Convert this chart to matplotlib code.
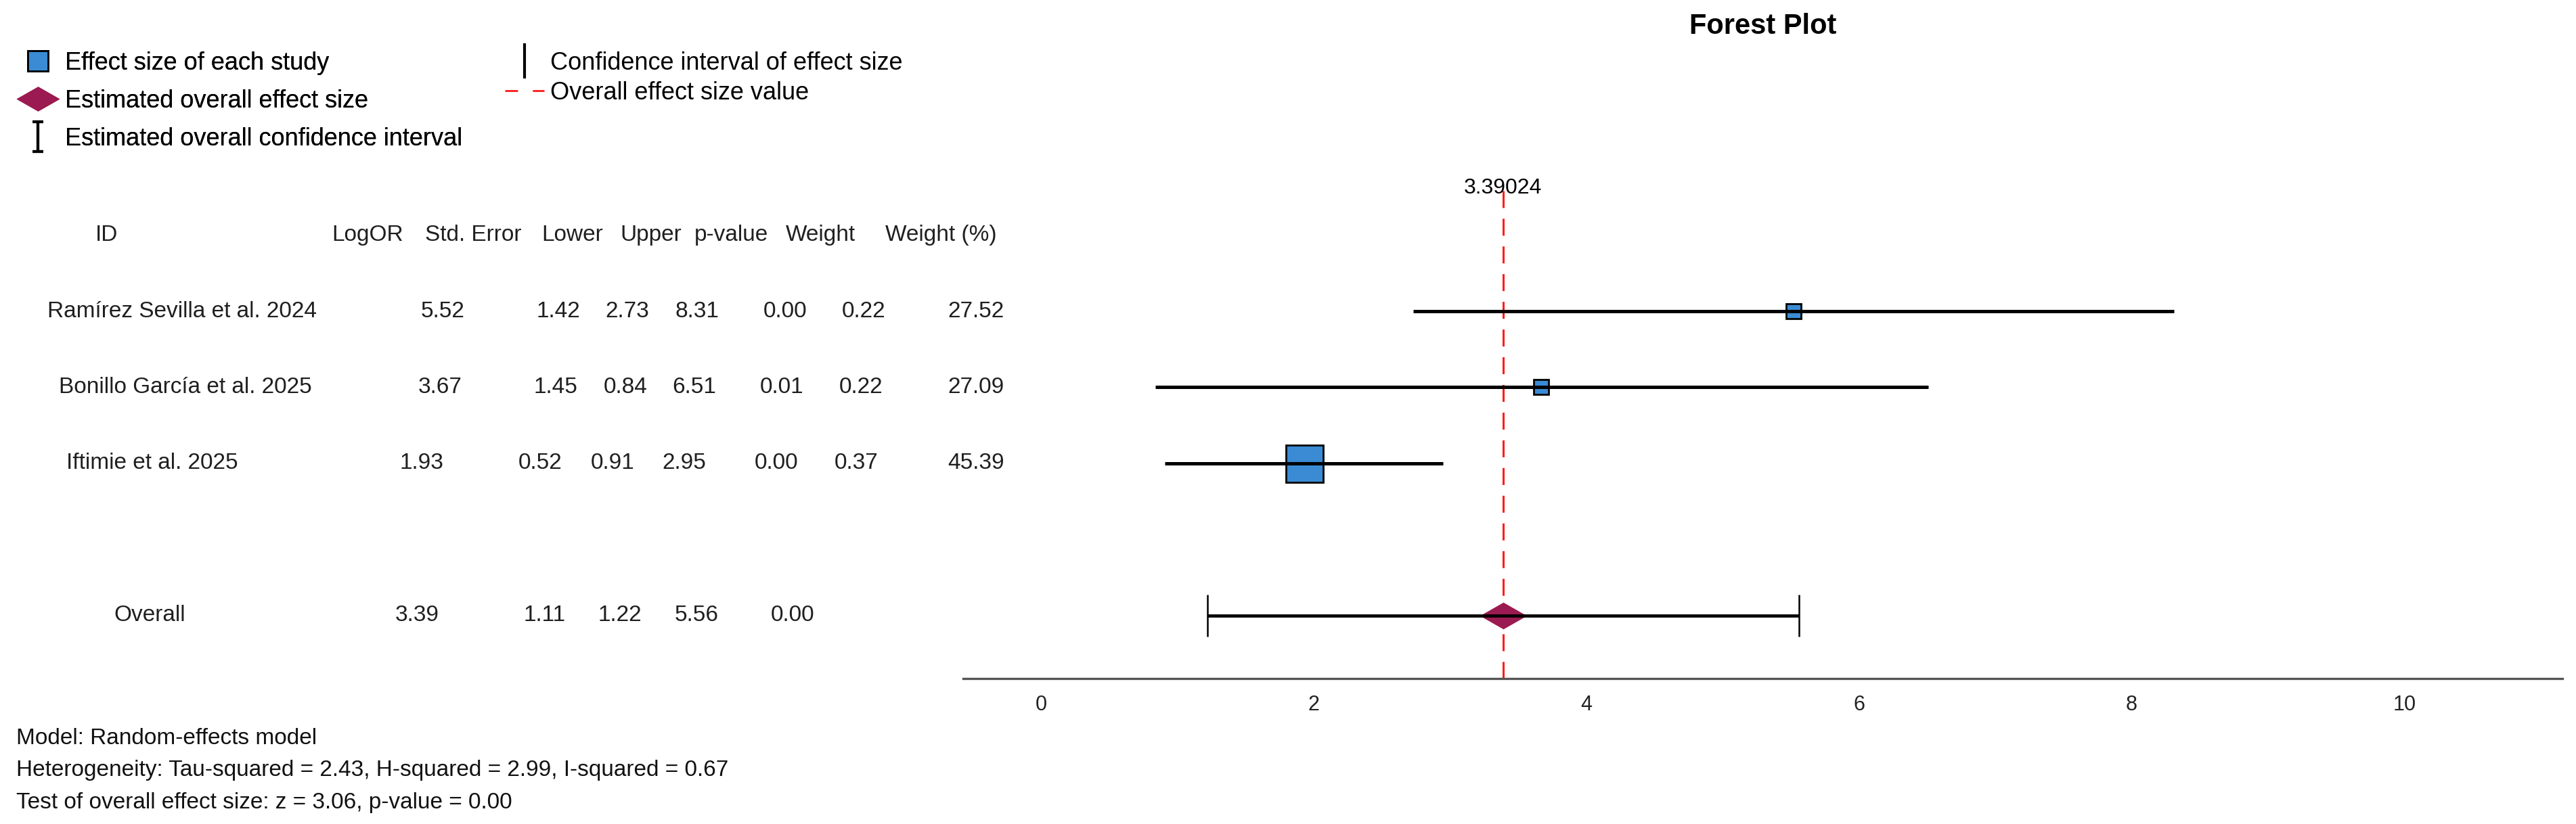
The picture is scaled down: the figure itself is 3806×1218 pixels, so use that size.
import numpy as np
import matplotlib.pyplot as plt
import matplotlib.transforms as mtransforms
from matplotlib.lines import Line2D
from matplotlib.path import Path

plt.rcParams['font.family'] = ['Liberation Sans', 'DejaVu Sans']

# Dados do forest plot
study_ids = ['Ramírez Sevilla et al. 2024', 'Bonillo García et al. 2025', 'Iftimie et al. 2025']
log_or = [5.52, 3.67, 1.93]
std_err = [1.42, 1.45, 0.52]
ci_lower = [2.73, 0.84, 0.91]
ci_upper = [8.31, 6.51, 2.95]
p_values = [0.00, 0.01, 0.00]
weights = [0.22, 0.22, 0.37]
weight_pct = [27.52, 27.09, 45.39]

overall_es = 3.39024
overall_se = 1.11
overall_lower = 1.22
overall_upper = 5.56
overall_p = 0.00

header = ['ID', 'LogOR', 'Std. Error', 'Lower', 'Upper', 'p-value', 'Weight', 'Weight (%)']
x_ticks = [0, 2, 4, 6, 8, 10]

footer_lines = [
    'Model: Random-effects model',
    'Heterogeneity: Tau-squared = 2.43, H-squared = 2.99, I-squared = 0.67',
    'Test of overall effect size: z = 3.06, p-value = 0.00',
]

# cores
blue = '#3a8bd4'
maroon = '#9b1a52'

W, H = 3806, 1218
fig = plt.figure(figsize=(W / 100, H / 100), dpi=100)
ax = fig.add_axes([1423 / W, 1 - 1003 / H, (3786 - 1423) / W, (1003 - 269) / H])

rows = np.arange(len(study_ids))
overall_row = len(study_ids) + 1
header_row = -1

# losango achatado (mais largo que alto)
diamond = Path([(-1, 0), (0, 0.57), (1, 0), (0, -0.57), (-1, 0)],
               [Path.MOVETO, Path.LINETO, Path.LINETO, Path.LINETO, Path.CLOSEPOLY])
ibar = Path([(0, -1), (0, 1), (-0.35, 1), (0.35, 1), (-0.35, -1), (0.35, -1)],
            [Path.MOVETO, Path.LINETO, Path.MOVETO, Path.LINETO, Path.MOVETO, Path.LINETO])

# linha do efeito global
ax.axvline(overall_es, color='#ff1a1a', lw=2.2, ls=(0, (8.2, 5.2)), zorder=1)

# estudos: quadrados com tamanho pelo peso + intervalo de confiança
max_w = max(weight_pct)
for y, es, w in zip(rows, log_or, weight_pct):
    ax.plot(es, y, marker='s', ms=39.6 * (w / max_w) ** 1.8, color=blue,
            markeredgecolor='black', markeredgewidth=2, linestyle='none', zorder=2)
ax.hlines(rows, ci_lower, ci_upper, color='black', lw=3.6, zorder=3)

# efeito global
ax.plot(overall_es, overall_row, marker=diamond, ms=50, color=maroon,
        markeredgewidth=0, linestyle='none', zorder=2.5)
ax.errorbar(overall_es, overall_row,
            xerr=[[overall_es - overall_lower], [overall_upper - overall_es]],
            fmt='none', ecolor='black', elinewidth=3.4, capsize=22, capthick=1.8, zorder=3)

ax.text(overall_es, -1.62, f'{overall_es:.5f}', ha='center', va='center', fontsize=23)

ax.set_xlim(-0.57, 11.16)
ax.set_ylim(4.83, -1.70)
ax.set_xticks(x_ticks)
ax.set_yticks([])
ax.tick_params(axis='x', length=0, pad=17, labelsize=22, labelcolor='#222222')
for side in ['top', 'left', 'right']:
    ax.spines[side].set_visible(False)
ax.spines['bottom'].set_color('#555555')
ax.spines['bottom'].set_linewidth(2.4)

ax.set_title('Forest Plot', fontsize=30, fontweight='bold', pad=158)

# tabela à esquerda (x em pixels da figura, y nos dados)
trans = mtransforms.blended_transform_factory(fig.transFigure, ax.transData)
header_x = [158, 543, 699, 846, 962, 1080, 1212, 1390]
row_x = [
    [269, 654, 825, 927, 1030, 1160, 1276, 1442],
    [274, 650, 821, 924, 1026, 1155, 1272, 1442],
    [225, 623, 798, 905, 1011, 1147, 1265, 1442],
]
overall_x = [221, 616, 805, 916, 1029, 1171]
tcolor = '#1f1f1f'
tsize = 24

for label, x in zip(header, header_x):
    ax.text(x / W, header_row, label, transform=trans, ha='center', va='center',
            fontsize=tsize, color=tcolor, clip_on=False)

for i, y in enumerate(rows):
    cells = [study_ids[i], f'{log_or[i]:.2f}', f'{std_err[i]:.2f}', f'{ci_lower[i]:.2f}',
             f'{ci_upper[i]:.2f}', f'{p_values[i]:.2f}', f'{weights[i]:.2f}', f'{weight_pct[i]:.2f}']
    for cell, x in zip(cells, row_x[i]):
        ax.text(x / W, y, cell, transform=trans, ha='center', va='center',
                fontsize=tsize, color=tcolor, clip_on=False)

overall_cells = ['Overall', f'{overall_es:.2f}', f'{overall_se:.2f}', f'{overall_lower:.2f}',
                 f'{overall_upper:.2f}', f'{overall_p:.2f}']
for cell, x in zip(overall_cells, overall_x):
    ax.text(x / W, overall_row, cell, transform=trans, ha='center', va='center',
            fontsize=tsize, color=tcolor, clip_on=False)

# rodapé
for k, line in enumerate(footer_lines):
    fig.text(24 / W, 1 - [1092, 1138, 1187][k] / H, line, ha='left', va='center',
             fontsize=24, color='#111111')

# legendas (duas colunas)
h_square = Line2D([], [], marker='s', ms=21, color=blue, markeredgecolor='black',
                  markeredgewidth=2, linestyle='none')
h_diamond = Line2D([], [], marker=diamond, ms=46, color=maroon, markeredgewidth=0, linestyle='none')
h_ibar = Line2D([], [], marker=ibar, ms=31, color='black', markeredgewidth=3, linestyle='none')
h_vline = Line2D([], [], marker='|', ms=37, color='black', markeredgewidth=3, linestyle='none')
h_dash = Line2D([], [], color='#ff1a1a', lw=2, ls=(0, (6.8, 7.9)))

leg1 = fig.legend([h_square, h_diamond, h_ibar],
                  ['Effect size of each study', 'Estimated overall effect size',
                   'Estimated overall confidence interval'],
                  loc='upper left', bbox_to_anchor=(24 / W, 1 - 76 / H), frameon=False,
                  fontsize=26, borderpad=0, borderaxespad=0, handlelength=1.78,
                  handletextpad=0.22, labelspacing=0.58, numpoints=1)
leg2 = fig.legend([h_vline, h_dash],
                  ['Confidence interval of effect size', 'Overall effect size value'],
                  loc='upper left', bbox_to_anchor=(746 / W, 1 - 76 / H), frameon=False,
                  fontsize=26, borderpad=0, borderaxespad=0, handlelength=1.6,
                  handletextpad=0.25, labelspacing=0.25, numpoints=1)
fig.add_artist(leg1)

fig.savefig('out.png', dpi=100)
